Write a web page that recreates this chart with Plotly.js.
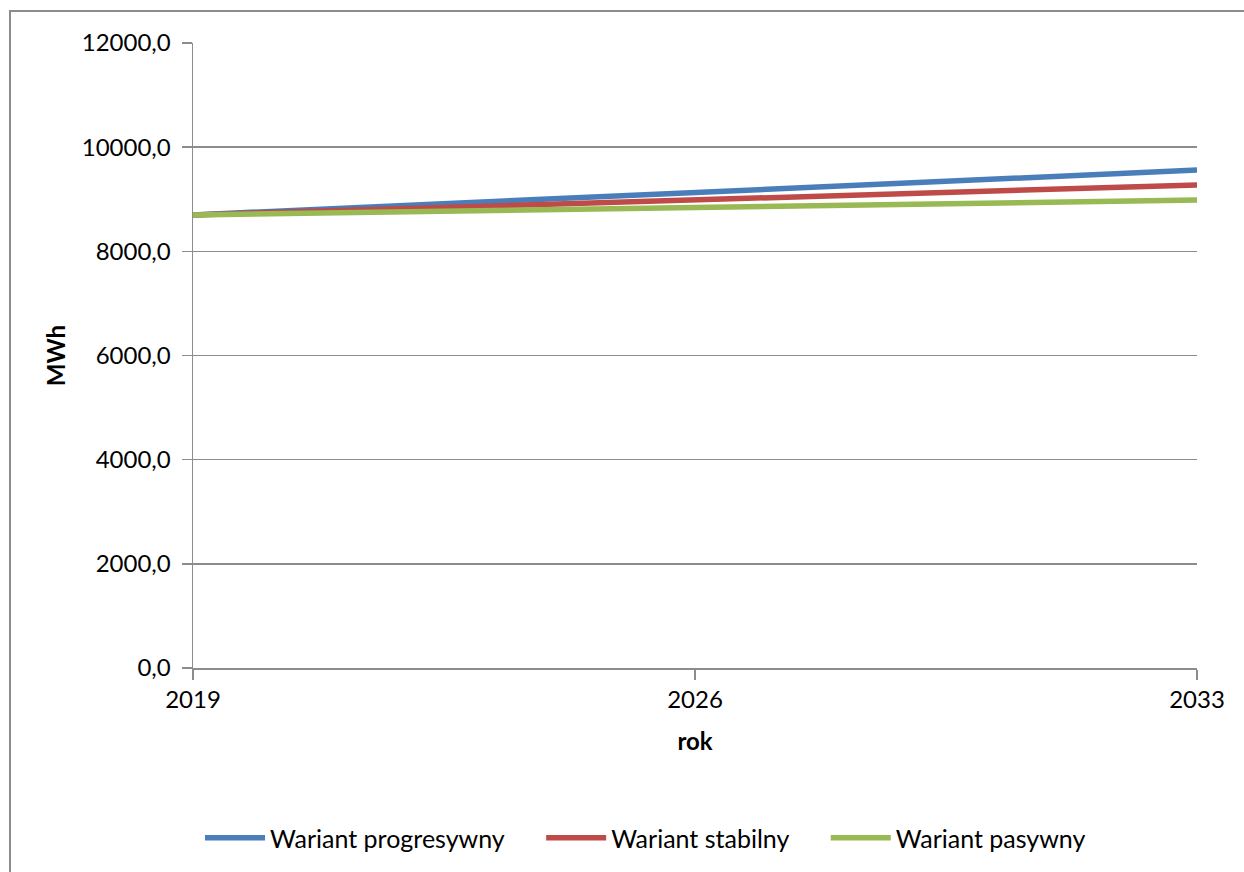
<!DOCTYPE html>
<html>
<head>
<meta charset="utf-8">
<script src="https://cdn.plot.ly/plotly-3.0.1.min.js"></script>
<style>
html,body{margin:0;padding:0;background:#fff;}
#frame{position:absolute;left:9px;top:10px;width:1260px;height:900px;border-left:2px solid #8c8c8c;border-top:2px solid #8c8c8c;box-sizing:border-box;}
#chart{position:absolute;left:0;top:0;width:1244px;height:872px;}
</style>
</head>
<body>
<div id="frame"></div>
<div id="chart"></div>
<script>
const years = [2019, 2026, 2033];
const seriesNames = ["Wariant progresywny", "Wariant stabilny", "Wariant pasywny"];
const progresywny = [8700, 9140, 9560];
const stabilny = [8700, 8990, 9275];
const pasywny = [8700, 8835, 8985];
const yTicks = [0, 2000, 4000, 6000, 8000, 10000, 12000];
const xTicks = [2019, 2026, 2033];
const colors = ["#4a7ebb", "#be4b48", "#98b954"];

const values = [progresywny, stabilny, pasywny];
const pad = "\u00a0\u00a0\u00a0\u00a0\u00a0";
const traces = values.map((v, i) => ({
  x: years, y: v, type: "scatter", mode: "lines",
  name: seriesNames[i] + (i < values.length - 1 ? pad : ""),
  line: {color: colors[i], width: 5.5}
}));

const font = "Lato, 'Open Sans', sans-serif";
const layout = {
  width: 1244, height: 872,
  paper_bgcolor: "rgba(0,0,0,0)", plot_bgcolor: "rgba(0,0,0,0)",
  separators: ", ",
  margin: {l: 193, r: 47, t: 43, b: 204, autoexpand: false},
  font: {family: font, size: 22, color: "#000"},
  showlegend: true,
  legend: {orientation: "h", x: 0.007, xanchor: "left", y: -0.272, yanchor: "middle",
           font: {family: font, size: 25}, itemwidth: 60, tracegroupgap: 0},
  xaxis: {
    range: [2019, 2033], tickvals: xTicks, ticktext: xTicks.map(String),
    showgrid: false, zeroline: false, showline: true, linecolor: "#8c8c8c", linewidth: 1.5,
    ticks: "outside", ticklen: 10, tickcolor: "#8c8c8c", tickwidth: 1.5,
    tickfont: {family: font, size: 24}, automargin: false,
    title: {text: "<b>rok</b>", font: {family: font, size: 24}, standoff: 21}
  },
  yaxis: {
    range: [0, 12000], tickvals: yTicks, tickformat: ".1f",
    showgrid: true, gridcolor: "#8c8c8c", gridwidth: 1.5, zeroline: false,
    showline: true, linecolor: "#8c8c8c", linewidth: 1.5,
    ticks: "outside", ticklen: 10, tickcolor: "#8c8c8c", tickwidth: 1.5,
    tickfont: {family: font, size: 24}, ticklabelstandoff: 6, automargin: false,
    title: {text: "<b>MWh</b>", font: {family: font, size: 24}, standoff: 9}
  }
};
Plotly.newPlot("chart", traces, layout, {displayModeBar: false, staticPlot: true});
</script>
</body>
</html>
